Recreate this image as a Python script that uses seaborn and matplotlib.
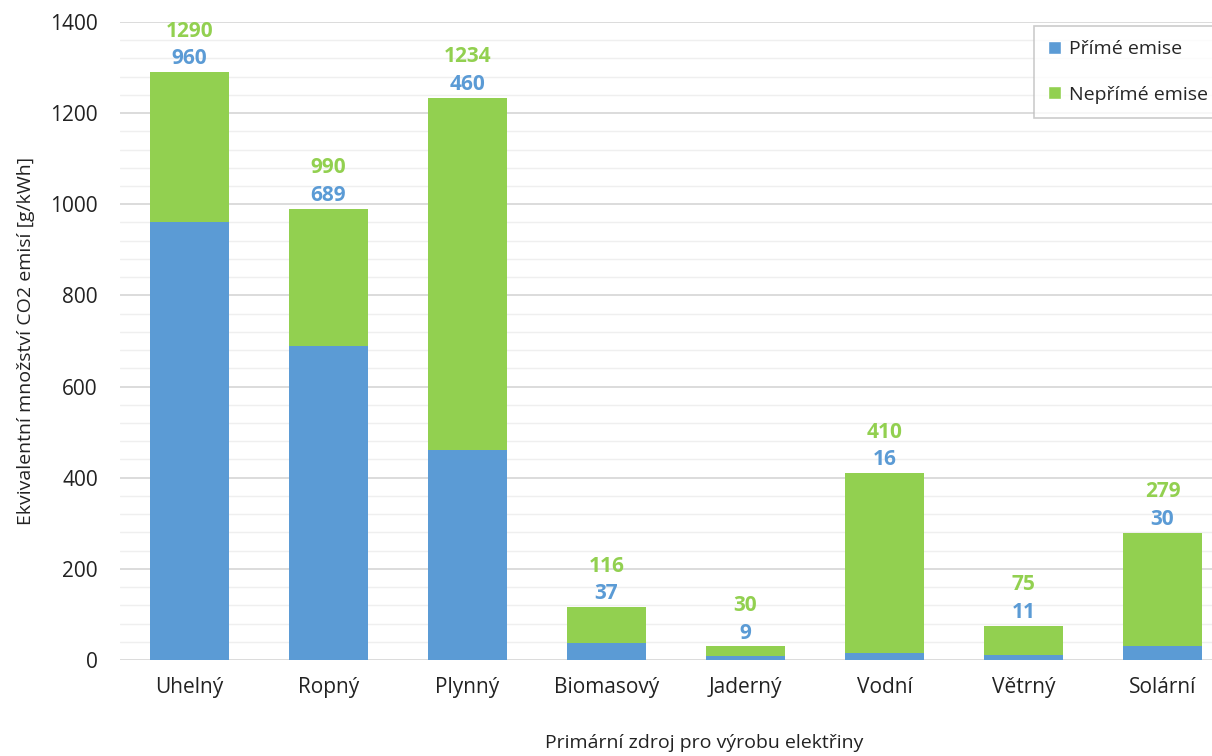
import numpy as np
import pandas as pd
import matplotlib.pyplot as plt
import seaborn as sns
from matplotlib.patches import Patch
from matplotlib.ticker import MultipleLocator

# Emise CO2 podle zdroje elektřiny
sources = ['Uhelný', 'Ropný', 'Plynný', 'Biomasový', 'Jaderný', 'Vodní', 'Větrný', 'Solární']
total = [1290, 990, 1234, 116, 30, 410, 75, 279]
direct = [960, 689, 460, 37, 9, 16, 11, 30]

BLUE = '#5B9BD5'
GREEN = '#92D050'

df = pd.DataFrame({'zdroj': sources, 'celkem': total, 'prime': direct})

sns.set_theme(style='white')
plt.rcParams['font.family'] = ['Open Sans', 'DejaVu Sans']

fig = plt.figure(figsize=(12.12, 7.56), dpi=100)
ax = fig.add_axes([0.099, 0.127, 0.9175, 0.844])

# green = total height, blue drawn over it
sns.barplot(data=df, x='zdroj', y='celkem', color=GREEN, width=0.575,
            saturation=1, linewidth=0, ax=ax, zorder=3)
sns.barplot(data=df, x='zdroj', y='prime', color=BLUE, width=0.575,
            saturation=1, linewidth=0, ax=ax, zorder=4)

ax.set_xlim(-0.5, 7.5)
ax.set_ylim(0, 1400)
ax.yaxis.set_major_locator(MultipleLocator(200))
ax.yaxis.set_minor_locator(MultipleLocator(40))
ax.grid(which='major', axis='y', color='#D9D9D9', lw=1.3, zorder=0)
ax.grid(which='minor', axis='y', color='#EFEFEF', lw=1.0, zorder=0)
ax.set_axisbelow(True)
for s in ax.spines.values():
    s.set_visible(False)
ax.tick_params(axis='both', which='both', length=0, labelsize=15, colors='#222222')
ax.tick_params(axis='x', pad=12)
ax.tick_params(axis='y', pad=16)

for i, (t, d) in enumerate(zip(total, direct)):
    ax.annotate(str(d), (i, t), xytext=(0, 2), textcoords='offset points',
                ha='center', va='bottom', color=BLUE, fontsize=15, fontweight='bold')
    ax.annotate(str(t), (i, t), xytext=(0, 22), textcoords='offset points',
                ha='center', va='bottom', color=GREEN, fontsize=15, fontweight='bold')

ax.set_ylabel('Ekvivalentní množství CO2 emisí [g/kWh]', fontsize=14, color='#222222')
ax.yaxis.set_label_coords(-0.076, 0.5)
ax.set_xlabel('Primární zdroj pro výrobu elektřiny', fontsize=14, color='#222222', va='top')
ax.xaxis.set_label_coords(0.525, -0.116)

handles = [Patch(facecolor=BLUE, label='Přímé emise'),
           Patch(facecolor=GREEN, label='Nepřímé emise')]
leg = fig.legend(handles=handles, loc='upper left', bbox_to_anchor=(1024 / 1212, 1 - 16 / 756),
                 frameon=True, fontsize=14, handlelength=0.65, handleheight=0.65,
                 labelspacing=1.4, borderpad=0.75, handletextpad=0.4, fancybox=False)
leg.get_frame().set_edgecolor('#BFBFBF')
leg.get_frame().set_linewidth(1.2)

fig.savefig('out.png', dpi=100)
